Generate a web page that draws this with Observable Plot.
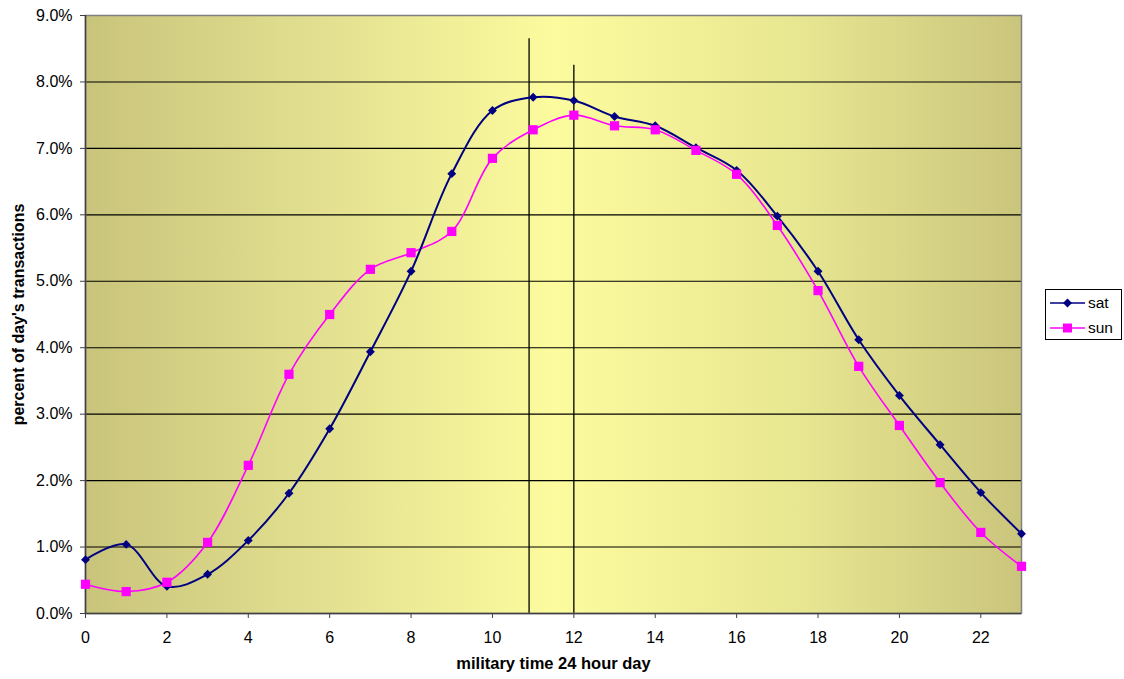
<!DOCTYPE html>
<html><head><meta charset="utf-8">
<script src="https://cdn.jsdelivr.net/npm/d3@7"></script>
<script src="https://cdn.jsdelivr.net/npm/@observablehq/plot@0.6"></script>
<style>
body{margin:0;background:#fff;font-family:"Liberation Sans",Arial,sans-serif}
#wrap{position:relative;width:1124px;height:679px}
#legend{position:absolute;left:1045px;top:289px;width:77px;height:51px;border:1px solid #000;background:#fff;box-sizing:border-box}
#legend svg{display:block}
</style></head><body>
<div id="wrap"></div>
<script>
const hours = [0,1,2,3,4,5,6,7,8,9,10,11,12,13,14,15,16,17,18,19,20,21,22,23];
const sat = [0.81,1.04,0.41,0.59,1.10,1.81,2.78,3.94,5.15,6.62,7.57,7.77,7.72,7.48,7.34,7.01,6.67,5.98,5.15,4.12,3.28,2.54,1.82,1.20];
const sun = [0.44,0.33,0.47,1.07,2.23,3.60,4.50,5.18,5.43,5.75,6.85,7.28,7.50,7.34,7.28,6.97,6.61,5.84,4.86,3.72,2.83,1.97,1.22,0.71];
const markerHours = [10.9, 12];
const markerTops = [8.65, 8.25];
const yTicks = [0,1,2,3,4,5,6,7,8,9];
const xTicks = [0,2,4,6,8,10,12,14,16,18,20,22];
const gridLevels = [1,2,3,4,5,6,7,8];

const satData = hours.map((h,i)=>({h, v:sat[i]}));
const sunData = hours.map((h,i)=>({h, v:sun[i]}));
const vlines = markerHours.map((h,i)=>({h, top:markerTops[i]}));

const chart = Plot.plot({
  width: 1124, height: 679,
  marginTop: 15, marginRight: 103, marginBottom: 66, marginLeft: 85,
  style: {fontFamily: '"Liberation Sans", Arial, sans-serif', fontSize: "16px", color: "#000", background: "#fff"},
  x: {domain: [0, 23]},
  y: {domain: [0, 9]},
  marks: [
    Plot.frame({fill: "url(#bggrad)", stroke: "none"}),
    Plot.ruleY(gridLevels, {stroke: "#000", strokeWidth: 1.1}),
    Plot.ruleX(vlines, {x: "h", y1: 0, y2: "top", stroke: "#000", strokeWidth: 1.3}),
    Plot.frame({stroke: "#808080", strokeWidth: 1.5}),
    Plot.ruleX([0], {stroke: "#404040", strokeWidth: 1.5}),
    Plot.ruleY([0], {stroke: "#404040", strokeWidth: 1.5}),
    Plot.axisY(yTicks, {tickSize: 5, tickPadding: 8, tickFormat: d => d.toFixed(1) + "%", stroke: "#404040", fontSize: 16,
      label: null}),
    Plot.axisX(xTicks, {tickSize: 5, tickPadding: 13, tickFormat: d => String(d), stroke: "#404040", fontSize: 16,
      label: null}),
    Plot.text(["percent of day's transactions"], {frameAnchor: "left", textAnchor: "middle", dx: -67, rotate: -90, fontSize: 16, fontWeight: "bold", fill: "#000"}),
    Plot.text(["military time 24 hour day"], {frameAnchor: "bottom", dy: 55, fontSize: 16.5, fontWeight: "bold", fill: "#000"}),
    Plot.line(sunData, {x: "h", y: "v", stroke: "#ff00ff", strokeWidth: 1.6, curve: "catmull-rom"}),
    Plot.line(satData, {x: "h", y: "v", stroke: "#000080", strokeWidth: 2, curve: "catmull-rom"}),
    Plot.dot(satData, {x: "h", y: "v", symbol: "diamond2", r: 4, fill: "#000080", stroke: "none"}),
    Plot.dot(sunData, {x: "h", y: "v", symbol: "square", r: 5.2, fill: "#ff00ff", stroke: "none"})
  ]
});

// gradient definition for plot background
const ns = "http://www.w3.org/2000/svg";
const defs = document.createElementNS(ns, "defs");
defs.innerHTML = '<linearGradient id="bggrad" x1="0" x2="1" y1="0" y2="0">' +
  '<stop offset="0" stop-color="#c9c47b"/>' +
  '<stop offset="0.25" stop-color="#e2e090"/>' +
  '<stop offset="0.5" stop-color="#fcfb9e"/>' +
  '<stop offset="0.75" stop-color="#e9e892"/>' +
  '<stop offset="1" stop-color="#cac57c"/></linearGradient>';
chart.insertBefore(defs, chart.firstChild);

const wrap = document.getElementById("wrap");
wrap.appendChild(chart);

const legendSeries = [{name: "sat", color: "#000080", shape: "diamond"}, {name: "sun", color: "#ff00ff", shape: "square"}];
const leg = document.createElement("div");
leg.id = "legend";
let s = '<svg width="75" height="49" xmlns="http://www.w3.org/2000/svg">';
legendSeries.forEach((d, i) => {
  const y = 13 + i * 25;
  s += `<line x1="4" x2="39" y1="${y}" y2="${y}" stroke="${d.color}" stroke-width="1.6"/>`;
  if (d.shape === "diamond") s += `<path d="M21.5,${y-4.5}L26,${y}L21.5,${y+4.5}L17,${y}Z" fill="${d.color}"/>`;
  else s += `<rect x="17" y="${y-4.5}" width="9" height="9" fill="${d.color}"/>`;
  s += `<text x="42" y="${y+5}" font-size="15.5" font-family="Liberation Sans, Arial, sans-serif">${d.name}</text>`;
});
s += '</svg>';
leg.innerHTML = s;
wrap.appendChild(leg);
</script>
</body></html>
